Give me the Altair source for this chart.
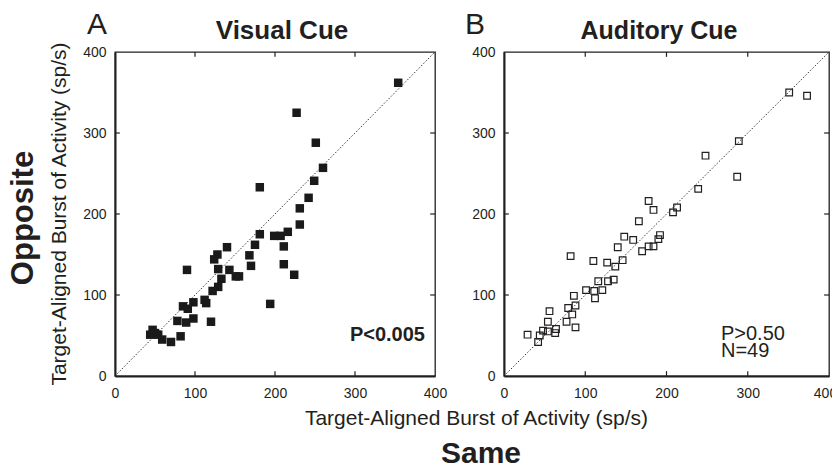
import altair as alt
import pandas as pd

# ---- data (sp/s) ----
visual_same = [354, 227, 251, 260, 249, 181, 242, 231, 231, 181, 199, 207, 216, 175, 211, 140,
               128, 168, 124, 170, 211, 129, 143, 90, 224, 151, 155, 133, 129, 122, 112, 114,
               98, 85, 91, 194, 98, 78, 89, 120, 47, 44, 54, 59, 70, 82, 50]
visual_opp = [362, 325, 288, 257, 241, 233, 220, 207, 187, 175, 173, 173, 178, 162, 160, 159,
              150, 149, 144, 136, 138, 132, 131, 131, 125, 123, 123, 120, 110, 105, 94, 90,
              91, 86, 83, 89, 71, 68, 66, 67, 57, 51, 51, 45, 42, 49, 53]

auditory_same = [351, 373, 289, 248, 287, 239, 208, 213, 178, 184, 166, 192, 190, 178, 184, 170,
                 159, 148, 140, 146, 137, 127, 110, 82, 135, 128, 116, 121, 111, 101, 112, 86,
                 88, 79, 84, 77, 88, 56, 54, 64, 63, 54, 48, 44, 42, 29]
auditory_opp = [350, 346, 290, 272, 246, 231, 202, 208, 216, 205, 191, 174, 169, 160, 160, 154,
                168, 172, 159, 143, 135, 140, 142, 148, 119, 117, 117, 106, 105, 106, 96, 99,
                87, 84, 76, 67, 60, 80, 67, 58, 53, 55, 56, 50, 42, 51]

axis_values = [0, 100, 200, 300, 400]
inner_ticks = [100, 200, 300]
panel_titles = ["Visual Cue", "Auditory Cue"]
panel_letters = ["A", "B"]
stats_a = ["P<0.005"]
stats_b = ["P>0.50", "N=49"]
axis_title = "Target-Aligned Burst of Activity (sp/s)"
y_label = "Opposite"
x_label = "Same"

FONT = "Liberation Sans, Arial, Helvetica, sans-serif"
INK = "#231f20"
DOM = [0, 400]
TL = 6  # inward tick length in data units


def scales():
    return alt.Scale(domain=DOM, nice=False, zero=False), alt.Scale(domain=DOM, nice=False, zero=False)


def frame_ticks():
    rows = []
    for v in inner_ticks:
        rows.append({"x": v, "x2": v, "y": 0, "y2": TL})
        rows.append({"x": v, "x2": v, "y": 400, "y2": 400 - TL})
        rows.append({"x": 0, "x2": TL, "y": v, "y2": v})
        rows.append({"x": 400, "x2": 400 - TL, "y": v, "y2": v})
    return pd.DataFrame(rows)


def text_px(txt, x, y, size, bold=False, angle=0, align="left"):
    kw = dict(font=FONT, fontSize=size, fontWeight="bold" if bold else "normal",
              color=INK, align=align, baseline="alphabetic")
    if angle:
        kw["angle"] = angle
    return alt.Chart(pd.DataFrame({"t": [txt]})).mark_text(**kw).encode(
        text="t:N", x=alt.value(x), y=alt.value(y))


def panel(same, opp, filled, width, height, extras, last_label_shift=0):
    xs, ys = scales()
    df = pd.DataFrame({"same": same, "opp": opp})
    xax_kw = dict(values=axis_values, title="", labelPadding=10, domainWidth=2, labelFlush=False)
    if last_label_shift:
        xax_kw["labelOffset"] = {"condition": {"test": "datum.value == 400", "value": last_label_shift},
                                 "value": 0}
    xax = alt.Axis(**xax_kw)
    yax = alt.Axis(values=axis_values, title="", labelPadding=9, domainWidth=2, labelFlush=False)
    if filled:
        pts = alt.Chart(df).mark_point(shape="square", filled=True, size=72, color="#1a1a1a", opacity=1)
    else:
        pts = alt.Chart(df).mark_point(shape="square", filled=False, size=44, color=INK,
                                       strokeWidth=1.2, opacity=1)
    pts = pts.encode(x=alt.X("same:Q", scale=xs, axis=xax),
                     y=alt.Y("opp:Q", scale=ys, axis=yax))
    diag = alt.Chart(pd.DataFrame({"x": [0], "x2": [400], "y": [0], "y2": [400]})).mark_rule(
        color=INK, strokeWidth=0.9, strokeDash=[1.5, 1.8]).encode(
        x=alt.X("x:Q", scale=xs), x2="x2:Q", y=alt.Y("y:Q", scale=ys), y2="y2:Q")
    ticks = alt.Chart(frame_ticks()).mark_rule(color=INK, strokeWidth=1.2).encode(
        x=alt.X("x:Q", scale=xs), x2="x2:Q", y=alt.Y("y:Q", scale=ys), y2="y2:Q")
    return alt.layer(diag, ticks, pts, *extras).properties(width=width, height=height)


# panel A extras
stat_a = alt.Chart(pd.DataFrame({"t": stats_a})).mark_text(
    font=FONT, fontSize=20, fontWeight="bold", color=INK, align="right", baseline="alphabetic"
).encode(text="t:N", x=alt.datum(387.5), y=alt.datum(43))

extras_a = [
    stat_a,
    text_px(panel_letters[0], -28, -18, 30),
    text_px(panel_titles[0], 167, -13, 26, bold=True, align="center"),
    text_px(y_label, -82, 166, 31, bold=True, angle=270, align="center"),
    text_px(axis_title, -49, 162, 21, angle=270, align="center"),
    text_px(axis_title, 361.5, 373, 21, align="center"),
    text_px(x_label, 366, 411, 30, bold=True, align="center"),
]

stat_b = alt.Chart(pd.DataFrame({"t": stats_b, "yy": [44.4, 23.5]})).mark_text(
    font=FONT, fontSize=20, color=INK, align="left", baseline="alphabetic"
).encode(text="t:N", x=alt.datum(267), y=alt.Y("yy:Q", scale=alt.Scale(domain=DOM, nice=False, zero=False)))

extras_b = [
    stat_b,
    text_px(panel_letters[1], -39, -18, 30),
    text_px(panel_titles[1], 155, -13, 25, bold=True, align="center"),
]

pa = panel(visual_same, visual_opp, True, 320, 324, extras_a)
pb = panel(auditory_same, auditory_opp, False, 325, 324, extras_b, last_label_shift=-4)

chart = alt.hconcat(pa, pb, spacing=69, bounds="flush").properties(
    autosize=alt.AutoSizeParams(type="none"),
    padding={"left": 107, "top": 44, "right": 717, "bottom": 415},
    background="white",
).configure_axis(
    labelFont=FONT, labelFontSize=14, labelColor=INK, domainColor=INK,
    ticks=False, tickSize=0, grid=False,
).configure_view(stroke=INK, strokeWidth=1.3)

chart.save("out.html", embed_options={"renderer": "svg", "actions": False})
